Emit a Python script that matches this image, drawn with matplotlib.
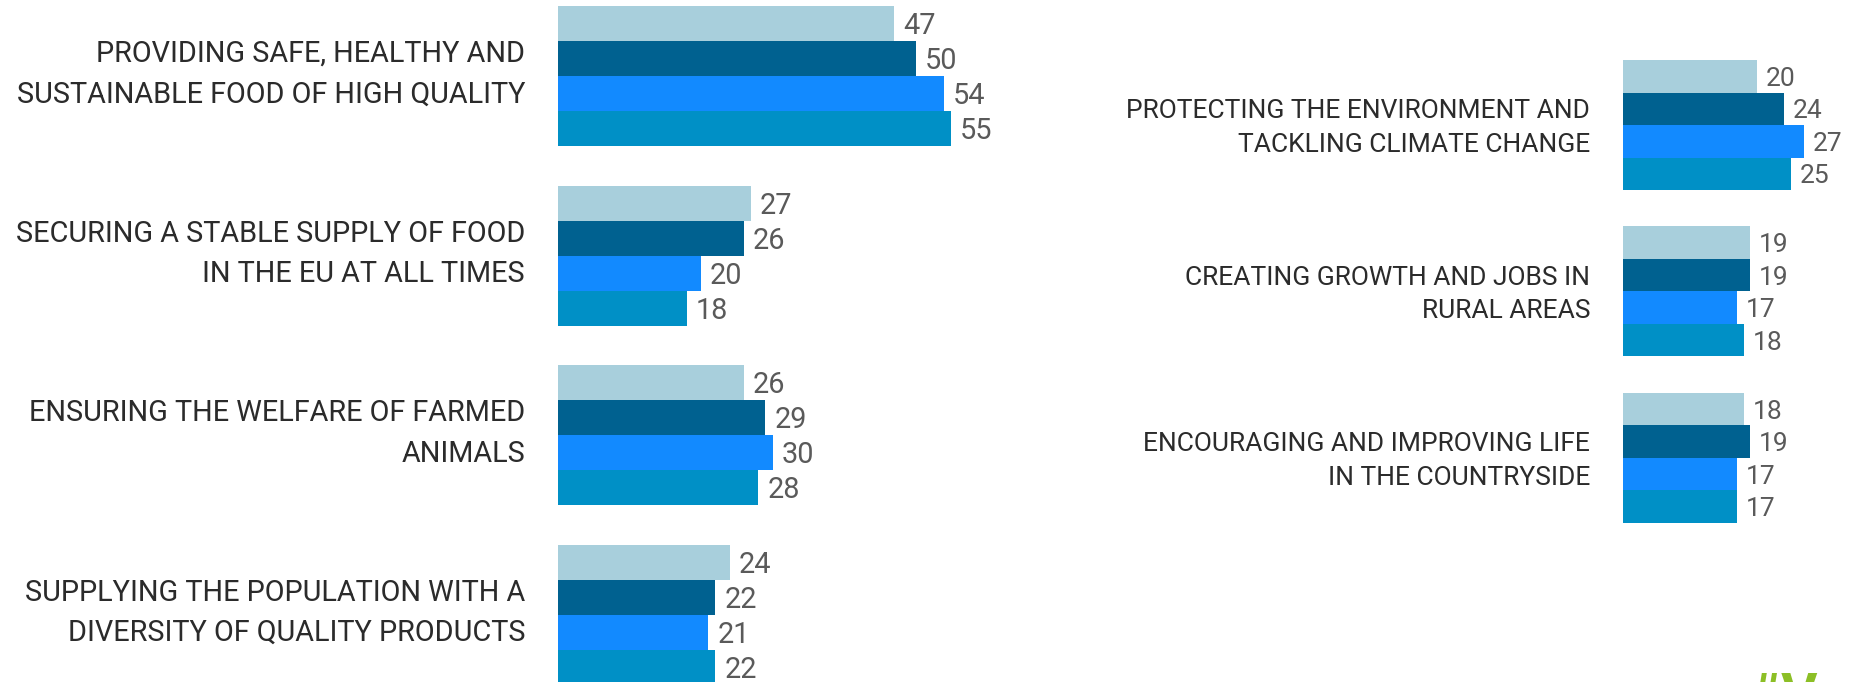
import matplotlib.pyplot as plt

plt.rcParams["font.family"] = ["Roboto", "DejaVu Sans"]

left_labels = [
    "PROVIDING SAFE, HEALTHY AND\nSUSTAINABLE FOOD OF HIGH QUALITY",
    "SECURING A STABLE SUPPLY OF FOOD\nIN THE EU AT ALL TIMES",
    "ENSURING THE WELFARE OF FARMED\nANIMALS",
    "SUPPLYING THE POPULATION WITH A\nDIVERSITY OF QUALITY PRODUCTS",
]
left_values = [
    [47, 50, 54, 55],
    [27, 26, 20, 18],
    [26, 29, 30, 28],
    [24, 22, 21, 22],
]

right_labels = [
    "PROTECTING THE ENVIRONMENT AND\nTACKLING CLIMATE CHANGE",
    "CREATING GROWTH AND JOBS IN\nRURAL AREAS",
    "ENCOURAGING AND IMPROVING LIFE\nIN THE COUNTRYSIDE",
]
right_values = [
    [20, 24, 27, 25],
    [19, 19, 17, 18],
    [18, 19, 17, 17],
]

colors = ["#a8cfdc", "#006190", "#128aff", "#0090c6"]

W, H = 1851, 682
fig = plt.figure(figsize=(W / 100, H / 100), dpi=100)


def panel(x0, px_per_unit, xmax, bar_px, top_px, group_step, labels, values,
          fs, lab_y, ls):
    ax = fig.add_axes([x0 / W, 0, px_per_unit * xmax / W, 1])
    # y in units of one bar height, centres at g*step + i
    ax.set_ylim((H - top_px) / bar_px - 0.5, -top_px / bar_px - 0.5)
    ax.set_xlim(0, xmax)
    ax.axis("off")
    for g, (lab, vals) in enumerate(zip(labels, values)):
        base = g * group_step
        for i, v in enumerate(vals):
            ax.barh(base + i, v, height=1, color=colors[i], edgecolor="none")
            ax.annotate(str(v), (v, base + i + 0.08), xytext=(9, 0),
                        textcoords="offset pixels", va="center", ha="left",
                        fontsize=fs, color="#5a5a5a", annotation_clip=False)
        ax.annotate(lab, (0, base + lab_y), xytext=(-33, 0), textcoords="offset pixels",
                    va="center", ha="right", multialignment="right", fontsize=fs,
                    color="#2b2b2b", linespacing=ls, annotation_clip=False)
    return ax


panel(558, 7.15, 60, 35, 6, 5.13, left_labels, left_values, 20.8, 1.45, 1.56)
panel(1623, 6.7, 30, 32.5, 60, 5.12, right_labels, right_values, 19, 1.6, 1.5)

fig.text(1748 / W, 1 - 672 / H, "#V", color="#8cbf26", fontsize=40,
         fontweight="bold", va="top", ha="left")

fig.savefig("out.png", dpi=100)
